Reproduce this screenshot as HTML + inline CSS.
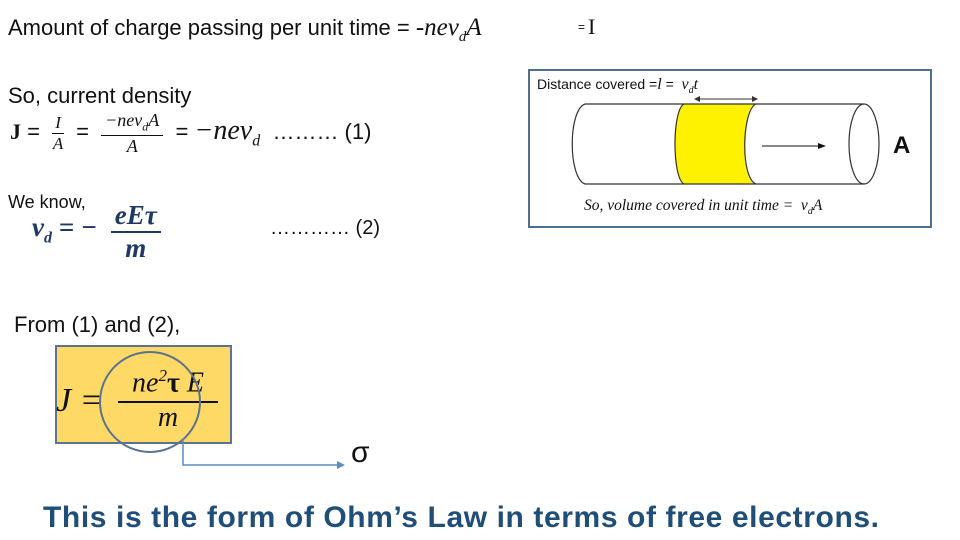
<!DOCTYPE html>
<html><head><meta charset="utf-8"><style>
body{margin:0;width:960px;height:540px;background:#fff;position:relative;overflow:hidden;font-family:"Liberation Sans",sans-serif;color:#111}
.a{position:absolute;white-space:nowrap}
.m{font-family:"Liberation Serif",serif;font-style:italic}
</style></head><body>
<div class="a" style="left:8px;top:14px;font-size:22px">Amount of charge passing per unit time = <span class="m" style="font-size:25px">-nev<sub style="font-size:15px">d</sub>A</span></div>
<div class="a" style="left:578px;top:20px;font-size:12px">=</div>
<div class="a" style="left:588px;top:14px;font-size:22px;font-family:'Liberation Serif',serif">I</div>
<div class="a" style="left:8px;top:83px;font-size:22px">So, current density</div>
<div class="a" style="left:10px;top:110px;font-size:22px">
<b style="font-family:'Liberation Serif',serif">J</b> =&nbsp;
<span style="display:inline-block;vertical-align:middle;text-align:center;font-size:17px" class="m"><span style="display:block;border-bottom:1px solid #111;padding:0 3px">I</span><span style="display:block">A</span></span>&nbsp; =&nbsp;
<span style="display:inline-block;vertical-align:middle;text-align:center;font-size:18px" class="m"><span style="display:block;border-bottom:1px solid #111;padding:0 4px">−nev<sub style="font-size:12px">d</sub>A</span><span style="display:block">A</span></span>
&nbsp;= <span class="m" style="font-size:28px">−nev<sub style="font-size:16px">d</sub></span>&nbsp; ……… (1)</div>
<div class="a" style="left:8px;top:192px;font-size:18px">We know,</div>
<div class="a" style="left:32px;top:200px;color:#1f3864;font-family:'Liberation Serif',serif;font-style:italic;font-weight:bold;font-size:27px">
<span style="display:inline-block;vertical-align:middle;margin-top:-4px">v<sub style="font-size:16px">d</sub> = −&nbsp;</span>
<span style="display:inline-block;vertical-align:middle;text-align:center"><span style="display:block;border-bottom:2px solid #1f3864;padding:0 4px">eEτ</span><span style="display:block">m</span></span></div>
<div class="a" style="left:270px;top:217px;font-size:20px">………… (2)</div>
<div class="a" style="left:14px;top:312px;font-size:22px">From (1) and (2),</div>
<div class="a" style="left:55px;top:345px;width:173px;height:95px;background:#ffd966;border:2px solid #5b7390"></div>
<div class="a m" style="left:56px;top:382px;font-size:34px">J =</div>
<div class="a m" style="left:118px;top:358px;font-size:28px;width:100px;text-align:center;border-bottom:2px solid #111;line-height:36px">ne<sup style="font-size:17px">2</sup><b style="font-style:normal">τ</b> E</div>
<div class="a m" style="left:118px;top:402px;font-size:28px;width:100px;text-align:center">m</div>
<svg class="a" style="left:0;top:0" width="960" height="540">
<circle cx="150" cy="402" r="50" fill="none" stroke="#5b7390" stroke-width="2"/>
<polyline points="183,438 183,465 338,465" fill="none" stroke="#5b8cc0" stroke-width="1.5"/>
<polygon points="345,465 337,461 337,469" fill="#5b8cc0"/>
<rect x="529" y="70" width="402" height="157" fill="none" stroke="#4f6f8f" stroke-width="2"/>
<path d="M684,104 L756,104 C742,110 740,176 754,184 L684,184 C672,176 672,110 684,104Z" fill="#fff200"/>
<line x1="585" y1="104" x2="864" y2="104" stroke="#333" stroke-width="1.2"/>
<line x1="585" y1="184" x2="864" y2="184" stroke="#333" stroke-width="1.2"/>
<path d="M585,104 C568,110 568,178 585,184" fill="none" stroke="#333" stroke-width="1.2"/>
<path d="M684,104 C672,110 672,178 684,184" fill="none" stroke="#333" stroke-width="1.2"/>
<path d="M756,104 C742,110 740,178 756,184" fill="none" stroke="#333" stroke-width="1.2"/>
<ellipse cx="864" cy="144" rx="15" ry="40" fill="none" stroke="#333" stroke-width="1.2"/>
<line x1="762" y1="146" x2="822" y2="146" stroke="#111"/>
<polygon points="826,146 818,143 818,149" fill="#111"/>
<line x1="696" y1="99" x2="756" y2="99" stroke="#333"/>
<polygon points="694,99 700,96 700,102" fill="#333"/><polygon points="758,99 752,96 752,102" fill="#333"/>
</svg>
<div class="a" style="left:537px;top:76px;font-size:14px">Distance covered =<span class="m" style="font-size:16px">l</span> = &nbsp;<span class="m" style="font-size:16px">v<sub style="font-size:10px">d</sub>t</span></div>
<div class="a" style="left:893px;top:132px;font-size:24px;font-weight:bold">A</div>
<div class="a m" style="left:584px;top:197px;font-size:15.5px">So, volume covered in unit time = &nbsp;v<sub style="font-size:10px">d</sub>A</div>
<div class="a" style="left:351px;top:436px;font-size:30px">σ</div>
<div class="a" style="left:43px;top:501px;font-size:30px;font-weight:bold;color:#1f4e79;letter-spacing:0.6px">This is the form of Ohm’s Law in terms of free electrons.</div>
</body></html>
